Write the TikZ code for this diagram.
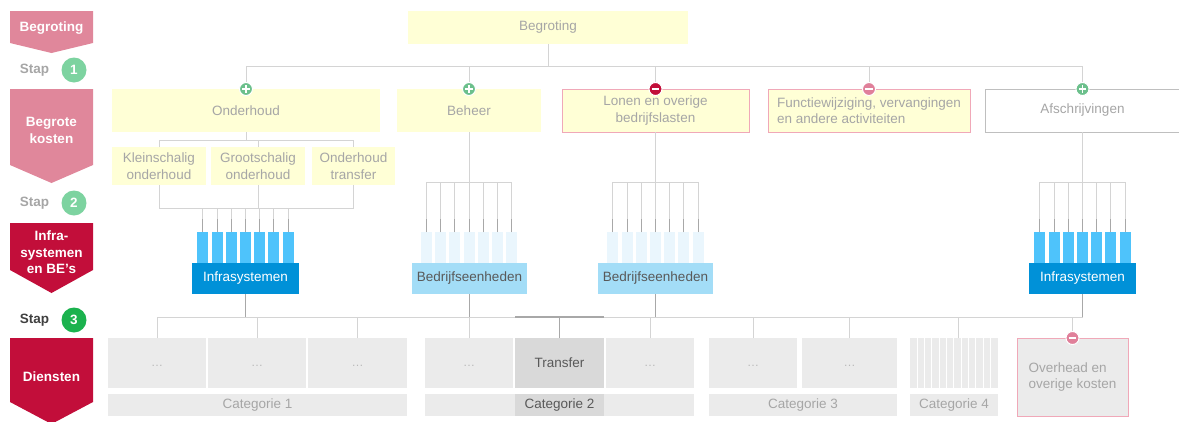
\documentclass[tikz,border=0pt]{standalone}
\usepackage{fontspec}
\setmainfont{Liberation Sans}
\definecolor{pinkC}{HTML}{E0879B}
\definecolor{redC}{HTML}{C20E3A}
\definecolor{lgreen}{HTML}{7DD3A0}
\definecolor{dgreen}{HTML}{1BB24E}
\definecolor{yel}{HTML}{FFFFD6}
\definecolor{tgray}{HTML}{A6A6A6}
\definecolor{dtxt}{HTML}{595959}
\definecolor{stapd}{HTML}{404040}
\definecolor{lgray}{HTML}{D4D4D4}
\definecolor{mgray}{HTML}{A8A8A8}
\definecolor{pborder}{HTML}{F0A8B8}
\definecolor{plusg}{HTML}{6CC08C}
\definecolor{minusp}{HTML}{E0809A}
\definecolor{infra}{HTML}{0091D8}
\definecolor{infrabar}{HTML}{4EC3FB}
\definecolor{bebox}{HTML}{A3DDF7}
\definecolor{bebar}{HTML}{EAF6FD}
\definecolor{boxg}{HTML}{EBEBEB}
\definecolor{boxd}{HTML}{D9D9D9}
\definecolor{afsb}{HTML}{BFBFBF}
\definecolor{dots}{HTML}{B8B8B8}
\newcommand\fs{\fontsize{13.5}{16.5}\selectfont}
\newcommand\plusicon[1]{%
  \node[circle, fill=plusg, draw=white, line width=1pt, minimum size=13pt, inner sep=0pt] (#1-p) at (#1.north) {};
  \draw[white, line width=1.6pt] ([xshift=-3.6pt]#1-p.center) -- ([xshift=3.6pt]#1-p.center)
       ([yshift=-3.6pt]#1-p.center) -- ([yshift=3.6pt]#1-p.center);}
\newcommand\minusicon[2]{%
  \node[circle, fill=#2, draw=white, line width=1pt, minimum size=13pt, inner sep=0pt] (#1-m) at (#1.north) {};
  \draw[white, line width=1.8pt] ([xshift=-3.8pt]#1-m.center) -- ([xshift=3.8pt]#1-m.center);}
\tikzset{
  ln/.style={draw=lgray, line width=1pt},
  dln/.style={draw=mgray, line width=1.3pt},
  bx/.style={anchor=north west, inner sep=0pt, outer sep=0pt, font=\fs, text=tgray, align=center},
  wh/.style 2 args={minimum width=#1, minimum height=#2},
  lab/.style={text=white, font=\fs\bfseries, align=center, inner sep=0pt},
  staptxt/.style={font=\fs\bfseries, inner sep=0pt},
  stapc/.style={circle, minimum size=25pt, inner sep=0pt, text=white, font=\fs\bfseries},
  bar/.style={anchor=north, minimum width=11, minimum height=31, inner sep=0pt, outer sep=0pt},
  dotsn/.style={text=dots, font=\fontsize{12}{14}\selectfont, inner sep=0pt}
}
\begin{document}
\begin{tikzpicture}[x=1pt, y=-1pt]
\useasboundingbox (0,0) rectangle (1179,421);
\clip (0,0) rectangle (1179,421);

% ---------- left column ----------
\fill[pinkC] (10,11) -- (93,11) -- (93,43) -- (51.5,53) -- (10,43) -- cycle;
\node[lab] (l1) at (51.5,28) {Begroting};
\node[staptxt, text=tgray] (st1) at (34.5,70) {Stap};
\node[stapc, fill=lgreen] (c1) at (74,70) {1};
\fill[pinkC] (10,89) -- (93,89) -- (93,165) -- (51.5,183) -- (10,165) -- cycle;
\node[lab] (l2) at (51.5,130.5) {Begrote\\kosten};
\node[staptxt, text=tgray] (st2) at (34.5,203) {Stap};
\node[stapc, fill=lgreen] (c2) at (74,203) {2};
\fill[redC] (10,223) -- (93,223) -- (93,270) -- (51.5,293) -- (10,270) -- cycle;
\node[lab] (l3) at (51.5,252.5) {Infra-\\systemen\\en BE's};
\node[staptxt, text=stapd] (st3) at (34.5,320) {Stap};
\node[stapc, fill=dgreen] (c3) at (74,320) {3};
\fill[redC] (10,338) -- (93,338) -- (93,402) -- (51.5,424) -- (10,402) -- cycle;
\node[lab] (l4) at (51.5,377) {Diensten};

% ---------- level 0/1 ----------
\node[bx, fill=yel, wh={280}{33}] (top) at (408,11) {Begroting};
\node[bx, fill=yel, wh={268}{43}] (on) at (112,89) {Onderhoud};
\node[bx, fill=yel, wh={144}{43}] (be) at (397,89) {Beheer};
\node[bx, fill=yel, draw=pborder, line width=1pt, wh={187}{43}] (lo) at (562,89) {Lonen en overige\\bedrijfslasten};
\node[bx, fill=yel, draw=pborder, line width=1pt, wh={202}{43}, align=left] (fu) at (768,89) {Functiewijziging, vervangingen\\en andere activiteiten};
\node[bx, fill=white, draw=afsb, line width=1pt, wh={195}{43}] (af) at (985,89) {Afschrijvingen};

\draw[ln] (top.south) -- ++(0,22) coordinate (tj);
\draw[ln] (on.north) -- ++(0,-23) -| (af.north);
\draw[ln] (be.north) -- ++(0,-23);
\draw[ln] (lo.north) -- ++(0,-23);
\draw[ln] (fu.north) -- ++(0,-23);

% ---------- Onderhoud sub boxes ----------
\node[bx, fill=yel, wh={94}{38}] (kl) at (112,147) {Kleinschalig\\onderhoud};
\node[bx, fill=yel, wh={94}{38}] (gr) at (211,147) {Grootschalig\\onderhoud};
\node[bx, fill=yel, wh={83}{38}] (ot) at (312,147) {Onderhoud\\transfer};
\draw[ln] (on.south) -- ++(0,8);
\draw[ln] (kl.north) -- ++(0,-7) -| (ot.north);
\draw[ln] (gr.north) -- ++(0,-7);
\draw[ln] (kl.south) -- ++(0,23) -| (ot.south);
\draw[ln] (gr.south) -- ++(0,23);

% ---------- bars and unit boxes ----------
\foreach \k in {0,...,6}{
  \node[bar, fill=infrabar] (ba-\k) at ({245.5+(\k-3)*14.2},232) {};
  \node[bar, fill=bebar] (bb-\k) at ({469+(\k-3)*14.1},232) {};
  \node[bar, fill=bebar] (bc-\k) at ({655.5+(\k-3)*14.2},232) {};
  \node[bar, fill=infrabar] (bd-\k) at ({1082.5+(\k-3)*14.2},232) {};
}
\node[bx, fill=infra, text=white, wh={107}{31}] (in1) at (192,263) {Infrasystemen};
\node[bx, fill=bebox, text=dtxt, wh={115}{31}] (bu1) at (412,263) {Bedrijfseenheden};
\node[bx, fill=bebox, text=dtxt, wh={115}{31}] (bu2) at (598,263) {Bedrijfseenheden};
\node[bx, fill=infra, text=white, wh={107}{31}] (in2) at (1029,263) {Infrasystemen};

% fans
\foreach \k in {0,...,6}{
  \draw[ln] (ba-\k.north) -- ++(0,-24);
  \draw[ln] (bb-\k.north) -- ++(0,-50);
  \draw[ln] (bc-\k.north) -- ++(0,-50);
  \draw[ln] (bd-\k.north) -- ++(0,-50);
  \draw[mgray, line width=1pt] (ba-\k.north) -- ++(0,-13);
  \draw[mgray, line width=1pt] (bb-\k.north) -- ++(0,-13);
  \draw[mgray, line width=1pt] (bc-\k.north) -- ++(0,-13);
  \draw[mgray, line width=1pt] (bd-\k.north) -- ++(0,-13);
}
\draw[ln] (bb-0.north) ++(0,-50) -- ([yshift=50pt]bb-6.north);
\draw[ln] (bc-0.north) ++(0,-50) -- ([yshift=50pt]bc-6.north);
\draw[ln] (bd-0.north) ++(0,-50) -- ([yshift=50pt]bd-6.north);
\draw[ln] (be.south) -- ([yshift=50pt]be.south |- bb-3.north);
\draw[ln] (lo.south) -- ([yshift=50pt]lo.south |- bc-3.north);
\draw[ln] (af.south) -- ([yshift=50pt]af.south |- bd-3.north);

% ---------- services ----------
\node[bx, fill=boxg, wh={98}{50}] (s1a) at (108,338) {};
\node[bx, fill=boxg, wh={98}{50}] (s1b) at (208,338) {};
\node[bx, fill=boxg, wh={99}{50}] (s1c) at (308,338) {};
\node[bx, fill=boxg, wh={88}{50}] (s2a) at (425,338) {};
\node[bx, fill=boxd, text=dtxt, wh={89}{50}] (tr) at (515,338) {Transfer};
\node[bx, fill=boxg, wh={88}{50}] (s2c) at (606,338) {};
\node[bx, fill=boxg, wh={88}{50}] (s3a) at (709,338) {};
\node[bx, fill=boxg, wh={95}{50}] (s3b) at (802,338) {};
\node[bx, fill=boxg, wh={88}{50}] (s4) at (910,338) {};
\foreach \k in {1,...,11}{
  \draw[white, line width=1pt] ([xshift=\k*7.33pt]s4.north west) -- ([xshift=\k*7.33pt]s4.south west);
}
\foreach \n in {s1a,s1b,s1c,s2a,s2c,s3a,s3b}{
  \node[dotsn] at ([yshift=-3pt]\n.center) {…};
}
\node[bx, fill=boxg, draw=pborder, line width=1pt, wh={111}{78}, align=left] (ov) at (1017,338) {Overhead en\\overige kosten};

\node[bx, fill=boxg, wh={299}{22}] (k1) at (108,394) {Categorie 1};
\node[bx, fill=boxg, wh={269}{22}] (k2) at (425,394) {};
\node[bx, fill=boxd, text=dtxt, wh={89}{22}] (k2t) at (515,394) {Categorie 2};
\node[bx, fill=boxg, wh={188}{22}] (k3) at (709,394) {Categorie 3};
\node[bx, fill=boxg, wh={88}{22}] (k4) at (910,394) {Categorie 4};

% connectors to services
\draw[ln] (s1a.north) -- ++(0,-21) -| (in2.south);
\draw[dln] (in1.south) -- ++(0,23);
\draw[dln] (bu1.south) -- ++(0,23);
\draw[dln] (bu2.south) -- ++(0,23);
\draw[dln] (in2.south) -- ++(0,23);
\foreach \n in {s1b,s1c,s2a,s2c,s3a,s3b,ov}{
  \draw[ln] (\n.north) -- ++(0,-21);
}
\draw[ln] ([xshift=4pt]s4.north) -- ++(0,-21);
\draw[dln] (tr.north) -- ++(0,-21);
\draw[dln] ([yshift=21pt]tr.north west) -- ([yshift=21pt]tr.north east);

% ---------- icons ----------
\plusicon{on}
\plusicon{be}
\minusicon{lo}{redC}
\minusicon{fu}{minusp}
\plusicon{af}
\minusicon{ov}{minusp}
\end{tikzpicture}
\end{document}
